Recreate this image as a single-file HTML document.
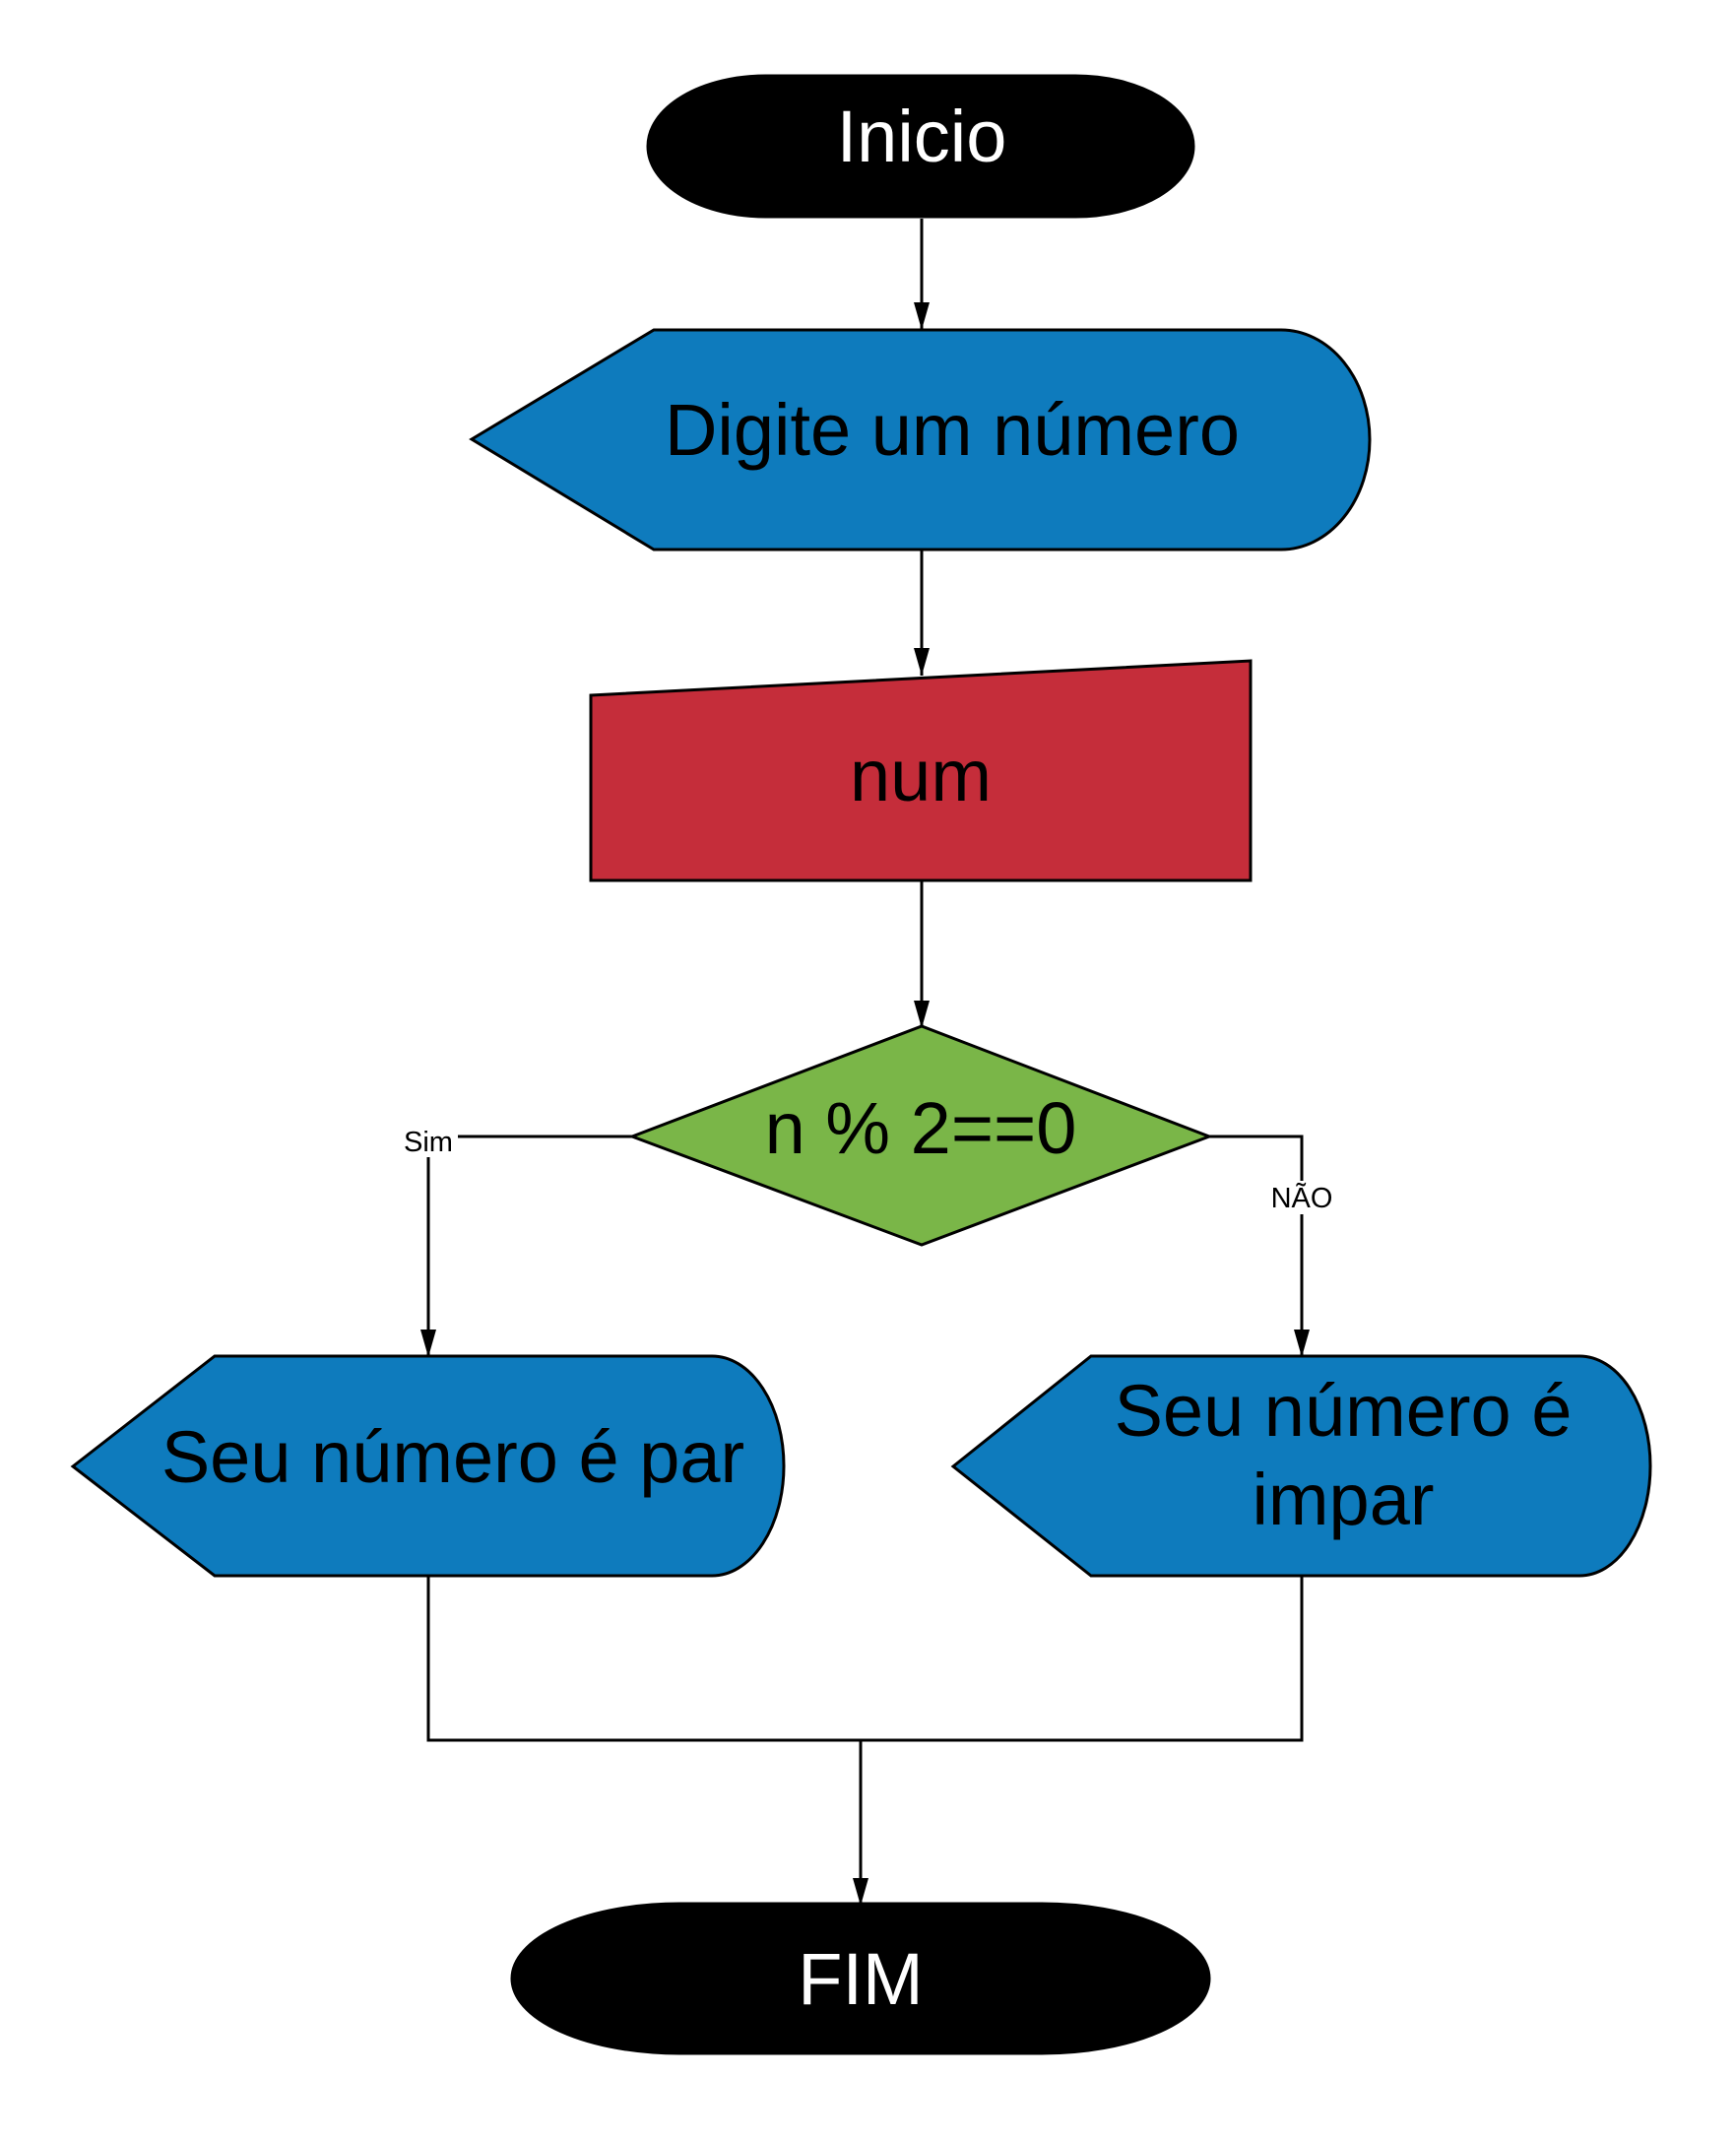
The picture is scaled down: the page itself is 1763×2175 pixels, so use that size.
<!DOCTYPE html>
<html><head><meta charset="utf-8"><style>html,body{margin:0;padding:0;background:#fff}svg{display:block}</style></head>
<body>
<svg width="1763" height="2175" viewBox="0 0 1763 2175" xmlns="http://www.w3.org/2000/svg" font-family="Liberation Sans, sans-serif">
<defs>
<marker id="b" markerWidth="28" markerHeight="20" refX="28" refY="10" orient="auto" markerUnits="userSpaceOnUse" viewBox="0 0 28 20"><path d="M0,2 L28,10 L0,18 z" fill="#000"/></marker></defs>
<g stroke="#000" stroke-width="3" fill="none">
<line x1="936" y1="222" x2="936" y2="335" marker-end="url(#b)"/>
<line x1="936" y1="558" x2="936" y2="686" marker-end="url(#b)"/>
<line x1="936" y1="894" x2="936" y2="1044" marker-end="url(#b)"/>
<polyline points="642,1154 435,1154 435,1378" marker-end="url(#b)"/>
<polyline points="1228,1154 1322,1154 1322,1378" marker-end="url(#b)"/>
<polyline points="435,1600 435,1767 1322,1767 1322,1600"/>
<line x1="874" y1="1767" x2="874" y2="1935" marker-end="url(#b)"/>
</g>
<g stroke="#000" stroke-width="3">
<rect x="658" y="77" width="554" height="143" rx="120" ry="71.5" fill="#000"/>
<path d="M479,446 L664,335 L1301,335 A90,111.5 0 0 1 1301,558 L664,558 Z" fill="#0e7bbd"/>
<path d="M600,706 L1270,671 L1270,894 L600,894 Z" fill="#c52d3a"/>
<path d="M642,1154 L936,1042 L1228,1154 L936,1264 Z" fill="#7ab648"/>
<path d="M74,1489 L218,1377 L723,1377 A73,111.5 0 0 1 723,1600 L218,1600 Z" fill="#0e7bbd"/>
<path d="M968,1489 L1108,1377 L1604,1377 A72,111.5 0 0 1 1604,1600 L1108,1600 Z" fill="#0e7bbd"/>
<rect x="520" y="1933" width="708" height="152" rx="170" ry="76" fill="#000"/>
</g>
<g font-size="74" text-anchor="middle">
<text x="936" y="164" fill="#fff">Inicio</text>
<text x="967" y="462" fill="#000">Digite um número</text>
<text x="935" y="813" fill="#000">num</text>
<text x="935" y="1171" fill="#000">n % 2==0</text>
<text x="460" y="1505" fill="#000">Seu número é par</text>
<text x="1364" y="1458" fill="#000">Seu número é</text>
<text x="1364" y="1548" fill="#000">impar</text>
<text x="874" y="2035" fill="#fff">FIM</text>
</g>
<rect x="405" y="1143" width="60" height="32" fill="#fff"/>
<text x="435" y="1169" font-size="29" text-anchor="middle">Sim</text>
<rect x="1283" y="1199" width="78" height="34" fill="#fff"/>
<text x="1322" y="1226" font-size="29" text-anchor="middle">NÃO</text>
</svg>
</body></html>
